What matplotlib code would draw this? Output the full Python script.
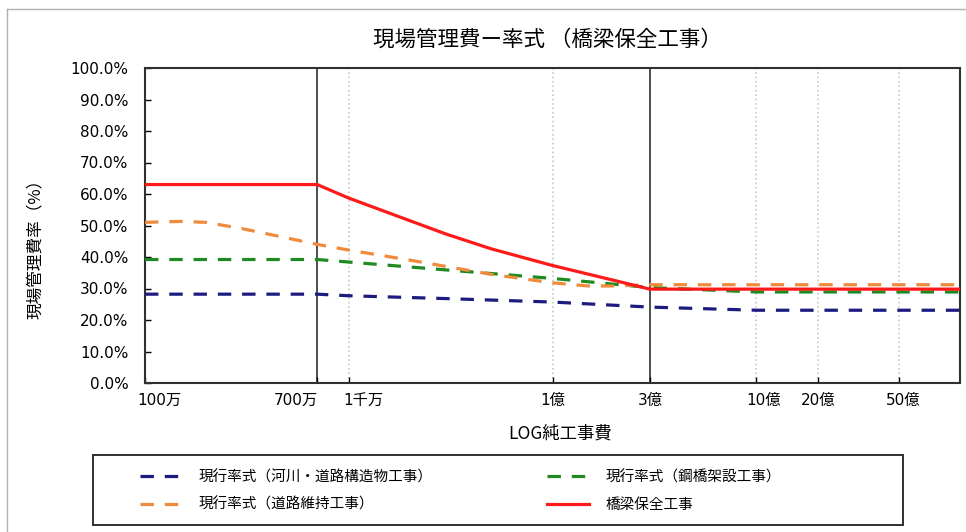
import matplotlib.pyplot as plt
from matplotlib.lines import Line2D
from matplotlib.patches import Rectangle
from matplotlib.transforms import ScaledTranslation

plt.rcParams['font.family'] = ['Noto Sans CJK JP', 'DejaVu Sans']
num_font = ['DejaVu Sans', 'Noto Sans CJK JP']

# 純工事費 (円) and 現場管理費率 (%)
x_min, x_max = 1e6, 1e10

kasen_x = [1e6, 7e6, 1e7, 3e7, 1e8, 3e8, 1e9, x_max]
kasen_y = [28.2, 28.2, 27.7, 26.8, 25.7, 24.1, 23.1, 23.1]

kokyo_x = [1e6, 7e6, 1e7, 3e7, 1e8, 3e8, 1e9, x_max]
kokyo_y = [39.2, 39.2, 38.4, 35.9, 33.2, 30.3, 28.9, 28.9]

iji_x = [1e6, 1.5e6, 2e6, 3e6, 5e6, 7e6, 1e7, 2e7, 3e7, 5e7, 1e8, 1.5e8, 2e8, 3e8, x_max]
iji_y = [51.0, 51.3, 51.0, 49.0, 46.0, 44.0, 42.2, 39.0, 37.0, 34.5, 31.8, 30.8, 30.8, 31.2, 31.2]

hozen_x = [1e6, 7e6, 1e7, 2e7, 3e7, 5e7, 1e8, 2e8, 3e8, x_max]
hozen_y = [63.0, 63.0, 58.7, 51.5, 47.3, 42.6, 37.3, 32.6, 29.8, 29.8]

tick_vals = [1e6, 7e6, 1e7, 1e8, 3e8, 1e9, 2e9, 5e9]
tick_labels = ['100万', '700万', '1千万', '1億', '3億', '10億', '20億', '50億']
tick_shift = [14, -21, 15, 0, 1, 7, 1, 4]  # label nudges in px
grid_vals = [1e7, 1e8, 1e9, 2e9, 5e9]
border_vals = [7e6, 3e8]

names_left = ['現行率式（河川・道路構造物工事）', '現行率式（道路維持工事）']
names_right = ['現行率式（鋼橋架設工事）', '橋梁保全工事']

fig = plt.figure(figsize=(9.66, 5.32), dpi=100)
ax = fig.add_axes([145 / 966, 149 / 532, 815 / 966, 315 / 532])

for v in grid_vals:
    ax.axvline(v, color='#c8c8c8', linestyle=':', linewidth=1.2, zorder=1)
for v in border_vals:
    ax.axvline(v, color='#404040', linewidth=1.3, zorder=1)

dash = (4.2, 3.4)
l_kasen, = ax.plot(kasen_x, kasen_y, color='#1c1c80', linewidth=2.3, dashes=dash, zorder=3)
l_kokyo, = ax.plot(kokyo_x, kokyo_y, color='#1f8a1f', linewidth=2.3, dashes=dash, zorder=3)
l_iji, = ax.plot(iji_x, iji_y, color='#f08a3c', linewidth=2.3, dashes=dash, zorder=3)
l_hozen, = ax.plot(hozen_x, hozen_y, color='#ff1a1a', linewidth=2.3, zorder=4)

ax.set_xscale('log')
ax.set_xlim(x_min, x_max)
ax.set_ylim(0, 100)
ax.set_xticks(tick_vals)
ax.set_xticklabels(tick_labels, family=num_font, fontsize=11)
ax.minorticks_off()
ax.set_yticks(range(0, 101, 10))
ax.set_yticklabels([f'{v:.1f}%' for v in range(0, 101, 10)], family=num_font, fontsize=11)
ax.tick_params(direction='in', length=4, width=1)
ax.tick_params(axis='y', pad=12)
ax.tick_params(axis='x', pad=7)
for lab, dx in zip(ax.get_xticklabels(), tick_shift):
    lab.set_transform(lab.get_transform() + ScaledTranslation(dx / 100, 0, fig.dpi_scale_trans))
for s in ax.spines.values():
    s.set_color('#303030')
    s.set_linewidth(1.5)

fig.text(547 / 966, 1 - 40 / 532, '現場管理費ー率式 （橋梁保全工事）', ha='center', va='center', fontsize=15.5)
fig.text(560 / 966, 1 - 434 / 532, 'LOG純工事費', ha='center', va='center', fontsize=12.5)
fig.text(35 / 966, 1 - 245 / 532, '現場管理費率（%）', ha='center', va='center', rotation=90, fontsize=12)

# legend: two columns placed separately inside one frame
leg_kw = dict(loc='center left', fontsize=10.5, handlelength=2.9, handletextpad=1.1,
              labelspacing=0.9, frameon=False, borderpad=0, borderaxespad=0)
leg1 = fig.legend([l_kasen, l_iji], names_left, bbox_to_anchor=(140 / 966, 1 - 491 / 532), **leg_kw)
leg2 = fig.legend([l_kokyo, l_hozen], names_right, bbox_to_anchor=(547 / 966, 1 - 491 / 532), **leg_kw)
fig.add_artist(Rectangle((93 / 966, 7 / 532), 810 / 966, 70 / 532, transform=fig.transFigure,
                         fill=False, edgecolor='#202020', linewidth=1.3))

# outer frame of the chart area
fig.add_artist(Line2D([7 / 966, 7 / 966], [0, 1 - 9 / 532], color='#b0b0b0', linewidth=1))
fig.add_artist(Line2D([7 / 966, 1], [1 - 9 / 532, 1 - 9 / 532], color='#b0b0b0', linewidth=1))

fig.savefig('out.png', dpi=100)
